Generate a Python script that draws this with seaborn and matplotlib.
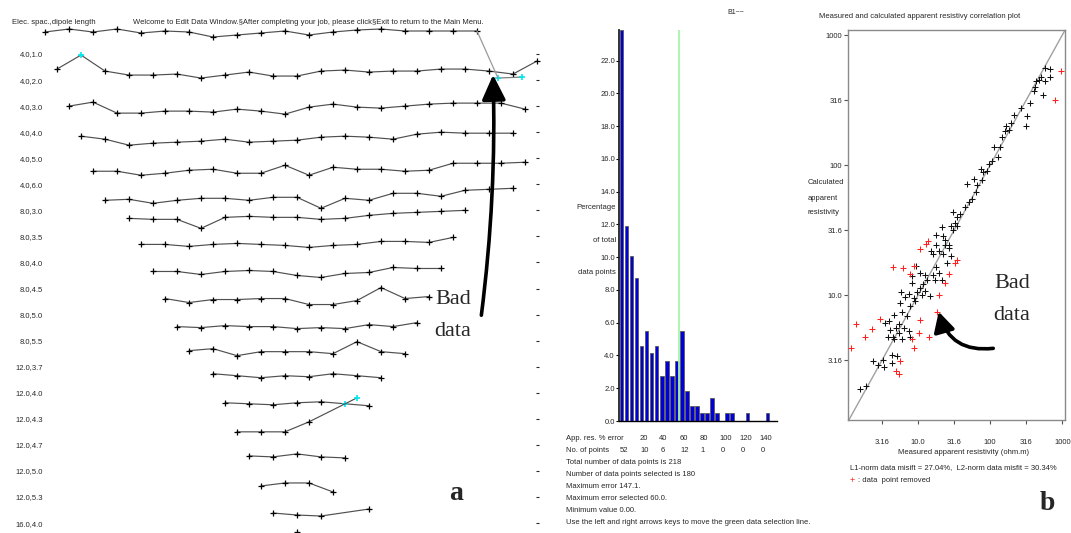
import numpy as np
import pandas as pd
import matplotlib
matplotlib.use('Agg')
import matplotlib.pyplot as plt
import matplotlib.transforms as mtransforms
from matplotlib.patches import FancyArrowPatch
import seaborn as sns

sns.set_style('white')
NARROW = ['Liberation Sans', 'DejaVu Sans']
SERIF = ['Liberation Serif', 'DejaVu Serif']
plt.rcParams['font.family'] = NARROW
FS = 5.5

W, H = 1071, 533

# --- panel a: edit data window (one profile per electrode spacing / dipole length) ---
row_labels = ['4.0,1.0', '4.0,2.0', '4.0,3.0', '4.0,4.0', '4.0,5.0', '4.0,6.0',
              '8.0,3.0', '8.0,3.5', '8.0,4.0', '8.0,4.5', '8.0,5.0', '8.0,5.5',
              '12.0,3.7', '12.0,4.0', '12.0,4.3', '12.0,4.7', '12.0,5.0', '12.0,5.3',
              '16.0,4.0']
row_start = [0.0, 0.5, 1.0, 1.5, 2.0, 2.5, 3.5, 4.0, 4.5, 5.0, 5.5, 6.0,
             7.0, 7.5, 8.0, 8.5, 9.0, 9.5, 10.5]
row_dev = [
    [-22, -25, -22, -25, -21, -23, -22, -17, -19, -21, -23, -19, -22, -24, -25, -23, -23, -23, -23],
    [-11, -25, -9, -5, -5, -6, -2, -5, -8, -4, -4, -9, -10, -8, -9, -9, -11, -11, -9, -6, -19],
    [0, -4, 7, 7, 5, 5, 6, 3, 5, 8, 1, -2, 1, 2, 0, -2, -3, -3, -3, 3],
    [4, 7, 13, 11, 10, 9, 7, 10, 9, 8, 5, 4, 5, 7, 2, 0, 1, 1, 1],
    [13, 13, 17, 15, 12, 11, 15, 15, 7, 17, 9, 11, 11, 13, 12, 5, 5, 5, 4],
    [16, 15, 19, 16, 14, 14, 16, 13, 13, 24, 14, 16, 9, 9, 12, 6, 5, 4],
    [8, 9, 9, 18, 7, 6, 7, 7, 9, 8, 5, 3, 2, 1, 0],
    [8, 8, 10, 8, 7, 8, 9, 11, 9, 8, 5, 5, 6, 1],
    [9, 9, 12, 9, 8, 9, 13, 15, 11, 10, 5, 6, 6],
    [10, 14, 11, 11, 10, 10, 16, 16, 12, -1, 10, 8],
    [12, 13, 11, 12, 12, 14, 13, 14, 10, 12, 8],
    [10, 8, 15, 11, 11, 11, 13, 1, 11, 13],
    [7, 9, 11, 9, 10, 7, 9, 11],
    [10, 11, 12, 10, 9, 11, 13],
    [13, 13, 13, 3, None, -21],
    [11, 12, 9, 12, 13],
    [15, 12, 12, 21],
    [16, 18, 19, None, 12],
    [9],
]
# highlighted (cyan) points: (row, index in row)
picked = [(1, 1), (13, 5), (14, 5)]
# shifted copy of the bad datum on row 2
shift_row = 1
shift_station = [18.875, 19.875]
shift_dev = [-2, -3]
ROW_PX = 26.06

# --- histogram of apparent resistivity % error ---
bin_edges = list(range(0, 155, 5))
counts = np.array([52, 26, 22, 19, 10, 12, 9, 10, 6, 8, 6, 8, 12, 4, 2,
                   2, 1, 1, 3, 1, 0, 1, 1, 0, 0, 1, 0, 0, 0, 1])
cut_off = 60.0
max_error = 147.1
n_selected = 180
hist_ticks = [20, 40, 60, 80, 100, 120, 140]

# --- correlation plot (ohm.m) ---
meas_black = [567, 673, 510, 567, 673, 468, 431, 421, 399, 532, 359, 267, 324, 211, 316, 196,
              167, 180, 162, 146, 114, 135, 128, 106, 97, 90, 75, 80, 77, 59, 66, 47, 64, 56,
              51, 45, 31, 38, 35, 33, 21.5, 29, 35, 31, 17.8, 21.9, 27.1, 23.4, 17.8, 15.3,
              19.3, 15.9, 21.9, 28.9, 25.2, 9.4, 17.8, 12.6, 15.9, 19.7, 21.5, 13.3, 8.3, 11.6,
              17.0, 10.8, 9.7, 12.6, 5.9, 7.4, 8.7, 11.4, 14.8, 6.7, 9.2, 5.7, 7.8, 6.0, 4.6,
              7.0, 3.9, 3.5, 5.4, 4.9, 6.3, 4.1, 7.6, 5.4, 4.5, 6.0, 4.6, 3.8, 7.8, 4.3, 5.1,
              3.3, 2.4, 2.8, 4.4, 3.4, 1.9, 1.55, 10.8, 8.3, 23.9, 26.5]
calc_black = [557, 551, 478, 445, 473, 451, 441, 396, 373, 344, 298, 274, 239, 244, 201, 210,
              201, 186, 184, 165, 137, 138, 116, 108, 102, 90, 94, 88, 77, 78, 70, 71, 62, 55,
              52, 48, 44, 42, 40, 36, 33.5, 34, 34, 32, 28.8, 28.4, 24.5, 24.3, 24.3, 21.8,
              21.8, 20.6, 20.6, 20.0, 17.7, 16.7, 16.4, 14.4, 14.4, 14.9, 13.0, 13.0, 12.4, 12.1,
              13.2, 11.4, 10.6, 10.7, 10.6, 10.2, 9.5, 10.0, 9.8, 9.7, 9.0, 8.7, 8.2, 7.5, 7.1,
              6.9, 6.3, 6.1, 6.0, 5.6, 5.6, 5.4, 5.3, 5.1, 4.8, 4.6, 4.6, 4.8, 4.8, 3.5, 3.4,
              3.2, 3.1, 2.9, 3.0, 2.8, 2.0, 1.9, 14.9, 14.0, 26.8, 23.1]
meas_red = [966, 798, 13.8, 12.9, 10.8, 34.7, 33, 4.5, 6.1, 8.7, 7.8, 26.5, 23.4, 19.7,
            18.3, 3.0, 1.36, 2.3, 1.86, 10.2, 14.0, 8.3, 1.19, 8.9, 5.7, 4.9, 5.4, 10.8]
calc_red = [526, 316, 26.0, 24.8, 22.5, 18.8, 17.7, 16.4, 16.2, 16.7, 14.6, 14.6, 12.4, 10.0,
            7.5, 6.6, 6.0, 5.5, 4.8, 5.1, 4.8, 4.6, 3.9, 3.9, 3.1, 2.6, 2.5, 6.5]
res_ticks = [3.16, 10.0, 31.6, 100, 316, 1000]
res_ticklabels = ['3.16', '10.0', '31.6', '100', '316', '1000']
l1_misfit, l2_misfit = 27.04, 30.34


def fx(px):
    return px / W


def fy(py):
    return 1 - py / H


def axes_px(left, top, right, bottom):
    return fig.add_axes([fx(left), fy(bottom), (right - left) / W, (bottom - top) / H])


fig = plt.figure(figsize=(W / 100, H / 100), dpi=100)

# ---------------- panel a ----------------
ax_a = axes_px(47, 0, 536, 533)
ax_a.set_xlim((47 - 45) / 24, (536 - 45) / 24)
ax_a.set_ylim((533 - 54) / ROW_PX, -54 / ROW_PX)
for sp in ax_a.spines.values():
    sp.set_visible(False)
ax_a.set_xticks([])
ax_a.set_yticks(range(len(row_labels)))
ax_a.set_yticklabels(row_labels)
ax_a.tick_params(axis='y', left=False, right=True, labelleft=True, labelright=False,
                 direction='out', length=2, width=0.8, pad=1, labelsize=FS)

row_xy = []
for k, devs in enumerate(row_dev):
    st = row_start[k] + np.arange(len(devs))
    dv = np.array([np.nan if d is None else d for d in devs], dtype=float)
    ys = k + dv / ROW_PX
    ok = ~np.isnan(ys)
    row_xy.append((st, ys))
    ax_a.plot(st[ok], ys[ok], '-', color='#505050', lw=0.85, clip_on=False)
    cyan_idx = [i for (r, i) in picked if r == k]
    blk = [i for i in range(len(devs)) if ok[i] and i not in cyan_idx]
    ax_a.plot(st[blk], ys[blk], '+', color='black', ms=4.2, mew=0.9, clip_on=False)
    if cyan_idx:
        ax_a.plot(st[cyan_idx], ys[cyan_idx], '+', color='#00e5ee', ms=4.2, mew=1.2, clip_on=False)

# shifted bad datum and the connector from the first profile
sx = np.array(shift_station)
sy = shift_row + np.array(shift_dev) / ROW_PX
ax_a.plot(sx, sy, '-', color='#808080', lw=0.9, clip_on=False)
ax_a.plot(sx, sy, '+', color='#00e5ee', ms=4.2, mew=1.2, clip_on=False)
x0, y0 = row_xy[0][0][-1], row_xy[0][1][-1]
ax_a.plot([x0, sx[0]], [y0, sy[0]], '-', color='#9a9a9a', lw=0.9, clip_on=False)

fig.text(fx(12), fy(22), 'Elec. spac.,dipole length', fontsize=FS, va='center', ha='left')
fig.text(fx(133), fy(22),
         'Welcome to Edit Data Window.\u00a7After completing your job, please click\u00a7Exit to return to the Main Menu.',
         fontsize=FS, va='center', ha='left')

arr_a = FancyArrowPatch((fx(481), fy(318)), (fx(493), fy(72)), transform=fig.transFigure,
                        arrowstyle='-|>,head_length=0.95,head_width=0.45', mutation_scale=16,
                        connectionstyle='arc3,rad=0.04', lw=2.6, color='black')
fig.patches.append(arr_a)
fig.text(fx(453), fy(300), 'Bad', fontsize=16, family=SERIF, ha='center', va='center')
fig.text(fx(453), fy(331), 'data', fontsize=16, family=SERIF, ha='center', va='center')
fig.text(fx(456), fy(494), 'a', fontsize=20, family=SERIF, weight='bold', ha='center', va='center')

# ---------------- histogram ----------------
ax_h = axes_px(619, 30, 777, 421)
pct = counts / counts.sum() * 100
hist_df = pd.DataFrame({'err': np.array(bin_edges[:-1]) + 2.5, 'pct': pct})
sns.histplot(data=hist_df, x='err', weights='pct', bins=bin_edges, shrink=0.7, color='#0000dc',
             edgecolor='#5a5a5a', linewidth=0.6, alpha=1, ax=ax_h)
ax_h.axvline(cut_off, color='#a6f5a6', lw=1.3)
ax_h.set_xlim(0, 157)
ax_h.set_ylim(0, pct.max() + 0.02)
ax_h.set_xlabel('')
ax_h.set_ylabel('')
ax_h.set_xticks([])
ax_h.set_yticks(np.arange(0, 23, 2))
ax_h.set_yticklabels([f'{v:.1f}' for v in np.arange(0, 23, 2)])
ax_h.tick_params(axis='y', left=True, direction='out', length=2.5, width=0.8, pad=0.5,
                 labelsize=FS, color='black')
ax_h.spines['top'].set_visible(False)
ax_h.spines['right'].set_visible(False)
ax_h.spines['left'].set_linewidth(1.3)
ax_h.spines['left'].set_color('#222222')
ax_h.spines['bottom'].set_linewidth(1.0)
ax_h.spines['bottom'].set_color('black')

fig.text(fx(736), fy(12), 'B1~~', fontsize=5, ha='center', va='center')
for txt, py in [('Percentage', 207), ('of total', 240), ('data points', 272)]:
    fig.text(fx(616), fy(py), txt, fontsize=FS, ha='right', va='center')

hx = mtransforms.blended_transform_factory(ax_h.transData, fig.transFigure)
fig.text(fx(566), fy(438), 'App. res. % error', fontsize=FS, va='center')
for v in hist_ticks:
    fig.text(v, fy(438), str(v), transform=hx, fontsize=FS, va='center', ha='left')
fig.text(fx(566), fy(451), 'No. of points', fontsize=FS, va='center')
for v in [0] + hist_ticks:
    fig.text(v + 1, fy(451), str(counts[v // 5]), transform=hx, fontsize=FS, va='center', ha='left')
info = [f'Total number of data points is {counts.sum()}',
        f'Number of data points selected is {n_selected}',
        f'Maximum error {max_error:.1f}.',
        f'Maximum error selected {cut_off:.1f}.',
        'Minimum value 0.00.',
        'Use the left and right arrows keys to move the green data selection line.']
for i, line in enumerate(info):
    fig.text(fx(566), fy(463 + 12 * i), line, fontsize=FS, va='center')

# ---------------- correlation plot ----------------
ax_s = axes_px(848, 30, 1065, 420)
ax_s.set_xscale('log')
ax_s.set_yscale('log')
ax_s.set_xlim(1.07, 1090)
ax_s.set_ylim(1.1, 1093)
ax_s.axline((1, 1), (1000, 1000), color='#a0a0a0', lw=1.0, zorder=1)
sns.scatterplot(x=meas_black, y=calc_black, marker='+', color='#111111', s=20,
                linewidth=0.75, ax=ax_s, zorder=3)
sns.scatterplot(x=meas_red, y=calc_red, marker='+', color='#ff2020', s=20,
                linewidth=0.75, ax=ax_s, zorder=3)
ax_s.set_xticks(res_ticks)
ax_s.set_xticklabels(res_ticklabels)
ax_s.set_yticks(res_ticks)
ax_s.set_yticklabels(res_ticklabels)
ax_s.minorticks_off()
ax_s.tick_params(axis='both', direction='out', length=3, width=0.8, labelsize=FS,
                 left=True, bottom=True, color='#555555')
ax_s.tick_params(axis='x', pad=11)
ax_s.tick_params(axis='y', pad=1)
for sp in ax_s.spines.values():
    sp.set_color('#8a8a8a')
    sp.set_linewidth(1.0)

fig.text(fx(920), fy(17), 'Measured and calculated apparent resistivy correlation plot',
         fontsize=FS, ha='center', va='center')
for txt, py in [('Calculated', 182), ('apparent', 198), ('resistivity', 213)]:
    fig.text(fx(808), fy(py), txt, fontsize=FS, ha='left', va='center')
fig.text(fx(964), fy(453), 'Measured apparent resistivity (ohm.m)', fontsize=FS,
         ha='center', va='center')
fig.text(fx(850), fy(468),
         f'L1-norm data misift = {l1_misfit:.2f}%,  L2-norm data misfit = {l2_misfit:.2f}%',
         fontsize=FS, ha='left', va='center')
fig.text(fx(850), fy(481), '+', color='#ff2020', fontsize=FS + 1, ha='left', va='center')
fig.text(fx(858), fy(481), ': data  point removed', fontsize=FS, ha='left', va='center')

arr_b = FancyArrowPatch((fx(996), fy(348)), (fx(938), fy(309)), transform=fig.transFigure,
                        arrowstyle='-|>,head_length=0.75,head_width=0.4', mutation_scale=16,
                        connectionstyle='arc3,rad=-0.45', lw=2.6, color='black')
fig.patches.append(arr_b)
fig.text(fx(1012), fy(283), 'Bad', fontsize=16, family=SERIF, ha='center', va='center')
fig.text(fx(1012), fy(316), 'data', fontsize=16, family=SERIF, ha='center', va='center')
fig.text(fx(1047), fy(503), 'b', fontsize=20, family=SERIF, weight='bold', ha='center', va='center')

fig.savefig('out.png', dpi=100)
